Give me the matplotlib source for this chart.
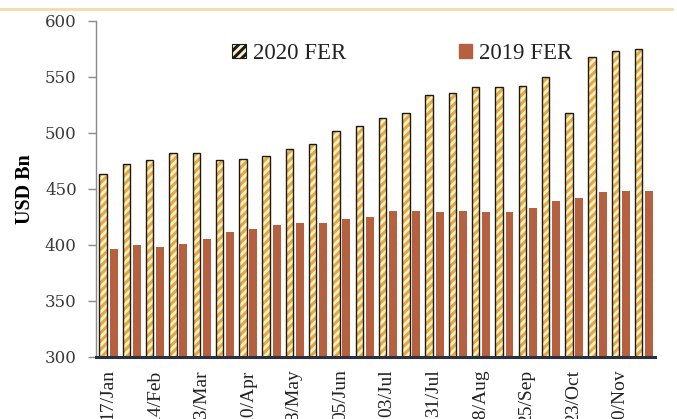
import matplotlib
matplotlib.use("Agg")
import matplotlib.pyplot as plt
import numpy as np
from matplotlib.patches import Patch

# Fortnightly foreign exchange reserves (USD Bn)
dates = ["17/Jan", "31/Jan", "14/Feb", "28/Feb", "13/Mar", "27/Mar", "10/Apr", "24/Apr",
         "08/May", "22/May", "05/Jun", "19/Jun", "03/Jul", "17/Jul", "31/Jul", "14/Aug",
         "28/Aug", "11/Sep", "25/Sep", "09/Oct", "23/Oct", "06/Nov", "20/Nov", "04/Dec"]
fer_2020 = [463, 472, 476, 482, 482, 476, 477, 479, 486, 490, 502, 506,
            513, 518, 534, 536, 541, 541, 542, 550, 518, 568, 573, 575]
fer_2019 = [396, 400, 398, 401, 405, 412, 414, 418, 420, 420, 423, 425,
            430, 430, 429, 430, 429, 429, 433, 439, 442, 447, 448, 448]
series_names = ["2020 FER", "2019 FER"]

plt.rcParams["font.family"] = ["Liberation Serif", "DejaVu Serif"]
plt.rcParams["hatch.linewidth"] = 2.2
plt.rcParams["hatch.color"] = "#e6a93c"

fig = plt.figure(figsize=(6.77, 4.19), dpi=100)
ax = fig.add_axes([0.142, 0.148, 0.8255, 0.802])

x = np.arange(len(dates))
gold = "#e6a93c"
cream = "#fdf0c4"
brown = "#b5603f"

# 2020 bars: hatched fill, then black outline on top
ax.bar(x - 0.2, fer_2020, width=0.32, color=cream, edgecolor=gold,
       hatch="////", linewidth=0, zorder=2)
ax.bar(x - 0.2, fer_2020, width=0.32, fill=False, edgecolor="#1a1a1a",
       linewidth=1.0, zorder=3)
# 2019 bars
ax.bar(x + 0.25, fer_2019, width=0.34, color=brown, linewidth=0, zorder=2)

ax.set_xlim(-0.5, len(dates) - 0.5)
ax.set_ylim(300, 600)
ax.set_yticks(np.arange(300, 601, 50))
ax.tick_params(axis="y", labelsize=12, length=6, width=1, colors="#8a8a8a",
               direction="out", pad=8)
for lbl in ax.get_yticklabels():
    lbl.set_fontfamily("DejaVu Serif")
    lbl.set_color("#3a3a3a")

ax.set_xticks(x[::2])
ax.set_xticklabels(dates[::2], rotation=90, fontsize=14, color="#222222")
ax.tick_params(axis="x", length=0, pad=9)

for side in ("top", "right"):
    ax.spines[side].set_visible(False)
ax.spines["left"].set_color("#8a8a8a")
ax.spines["left"].set_linewidth(1.0)
ax.spines["bottom"].set_color("#2b3040")
ax.spines["bottom"].set_linewidth(2.2)
ax.spines["bottom"].set_zorder(4)

ax.set_ylabel("USD Bn", fontsize=14.5, fontweight="bold")
ax.yaxis.set_label_coords(-0.11, 0.5)

handles = [
    Patch(facecolor=cream, edgecolor="#1a1a1a", hatch="////", linewidth=0.8),
    Patch(facecolor=brown, edgecolor=brown),
]
ax.legend(handles, series_names, loc="upper center", bbox_to_anchor=(0.548, 0.995),
          ncol=2, frameon=False, fontsize=16.5, columnspacing=4.9,
          handlelength=0.6, handleheight=0.6, handletextpad=0.3,
          labelcolor="#222222")

# thin decorative rule across the top of the chart area
fig.add_artist(plt.Line2D([0.0, 0.992], [0.978, 0.978], color="#f2dca8",
                          linewidth=2.0, transform=fig.transFigure))

fig.savefig("out.png", dpi=100)
